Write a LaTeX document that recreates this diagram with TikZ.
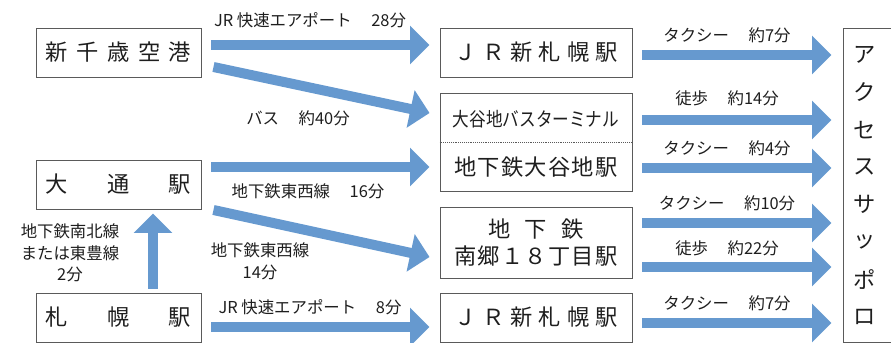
\documentclass[tikz,border=0pt]{standalone}
\usepackage{fontspec}
\setmainfont{Noto Sans CJK JP}
\usepackage{graphicx}
\usetikzlibrary{arrows.meta}
\definecolor{flowblue}{RGB}{102,153,207}
\definecolor{inkgray}{RGB}{30,30,30}
\definecolor{framegray}{RGB}{90,90,90}
\newcommand{\gap}{\hspace{1.2em}}
\tikzset{
  place/.style={draw=framegray,line width=0.8pt,inner sep=0pt,text=inkgray,font=\fontsize{19}{22}\selectfont},
  flow/.style={draw=flowblue,line width=0.3cm,-{Triangle[length=0.58cm,width=1.12cm]}},
  note/.style={text=inkgray,font=\fontsize{14}{18.5}\selectfont,inner sep=0pt,align=center}
}

\begin{document}
\begin{tikzpicture}[x=0.03cm,y=-0.03cm]
        \clip (0,0) rectangle (891,343);

        % the starting points
        \node[place,minimum width=4.95cm,minimum height=1.47cm] (airport) at (118.5,52.5)
          {\makebox[4.35cm][s]{新\hfill 千\hfill 歳\hfill 空\hfill 港}};
        \node[place,minimum width=4.95cm,minimum height=1.47cm] (odori) at (118.5,184.5)
          {\makebox[4.35cm][s]{大\hfill 通\hfill 駅}};
        \node[place,minimum width=4.95cm,minimum height=1.47cm] (sapporo) at (118.5,317.5)
          {\makebox[4.35cm][s]{札\hfill 幌\hfill 駅}};

        % the stations in between
        \node[place,minimum width=5.76cm,minimum height=1.47cm] (shinsapA) at (536,52.5)
          {\makebox[4.9cm][s]{Ｊ\hfill Ｒ\hfill 新\hfill 札\hfill 幌\hfill 駅}};
        \node[place,minimum width=5.76cm,minimum height=2.94cm] (oyachi) at (536,142) {};
        \node[text=inkgray,inner sep=0pt,font=\fontsize{16.5}{18}\selectfont] (bus) at (536,119)
          {\scalebox{0.86}[1]{大谷地バスターミナル}};
        \node[text=inkgray,inner sep=0pt,font=\fontsize{19}{22}\selectfont] (subway) at (536,167)
          {\makebox[4.9cm][s]{地\hfill 下\hfill 鉄\hfill 大\hfill 谷\hfill 地\hfill 駅}};
        \draw[framegray,densely dotted,line width=0.6pt] (oyachi.west) -- (oyachi.east);
        \node[place,minimum width=5.76cm,minimum height=2.13cm,align=center,
              font=\fontsize{19}{23}\selectfont] (nango) at (536,242.5)
          {\makebox[2.85cm][s]{地\hfill 下\hfill 鉄}\\
           \makebox[4.9cm][s]{南\hfill 郷\hfill １\hfill ８\hfill 丁\hfill 目\hfill 駅}};
        \node[place,minimum width=5.76cm,minimum height=1.47cm] (shinsapB) at (536,317.5)
          {\makebox[4.9cm][s]{Ｊ\hfill Ｒ\hfill 新\hfill 札\hfill 幌\hfill 駅}};

        % the goal, written downwards
        \node[place,minimum width=3cm,minimum height=9.42cm] (access) at (893,185) {};
        \foreach \ch [count=\i from 0] in {ア,ク,セ,ス,サ,ッ,ポ,ロ}
          \node[text=inkgray,font=\fontsize{19}{22}\selectfont] (k\i) at (865,55+37.4*\i) {\ch};

        % arrows on the left
        \draw[flow] ([shift={(10,-7.5)}]airport.east) -- ([shift={(-10,-7.5)}]shinsapA.west);
        \draw[flow] ([shift={(12,14.5)}]airport.east) -- ([shift={(-10,-29)}]oyachi.west);
        \draw[flow] ([shift={(10,-17.5)}]odori.east) -- ([shift={(-10,25)}]oyachi.west);
        \draw[flow] ([shift={(12,25.5)}]odori.east) -- ([shift={(-10,14.5)}]nango.west);
        \draw[flow] ([shift={(34.5,-4)}]sapporo.north) -- ([shift={(34.5,4)}]odori.south);
        \draw[flow] ([shift={(10,9.5)}]sapporo.east) -- ([shift={(-10,9.5)}]shinsapB.west);

        % arrows on the right
        \foreach \src/\dy in {shinsapA/2.5,oyachi/-22,oyachi/26,nango/-19.5,nango/24.5,shinsapB/5.5}
          \draw[flow,shorten >=0.33cm] ([shift={(10,\dy)}]\src.east) coordinate (s) -- (access.west |- s);

        % labels on the left
        \node[note] (l1) at (310,20) {JR 快速エアポート\gap 28分};
        \node[note] (l2) at (298,118) {バス\gap 約40分};
        \node[note] (l3) at (308,191) {地下鉄東西線\gap 16分};
        \node[note] (l4) at (260,261) {地下鉄東西線\\14分};
        \node[note] (l5) at (70,253) {地下鉄南北線\\または東豊線\\2分};
        \node[note] (l6) at (310,307) {JR 快速エアポート\gap 8分};

        % labels on the right
        \foreach \y/\texto [count=\n] in {35/{タクシー\gap 約7分},98/{徒歩\gap 約14分},148/{タクシー\gap 約4分},
                                          203/{タクシー\gap 約10分},248/{徒歩\gap 約22分},303/{タクシー\gap 約7分}}
          \node[note] (r\n) at (727,\y) {\texto};
\end{tikzpicture}
\end{document}
